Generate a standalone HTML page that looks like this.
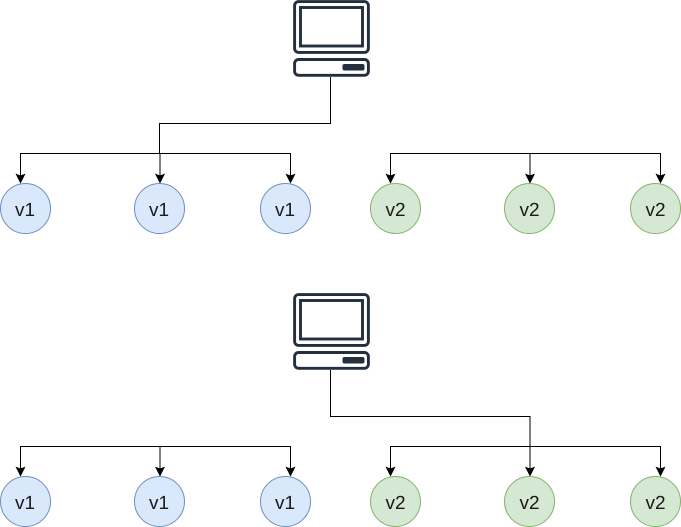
<!DOCTYPE html>
<html>
<head>
<meta charset="utf-8">
<style>
html,body{margin:0;padding:0;background:#fff;width:681px;height:527px;overflow:hidden}
svg{display:block}
text{font-family:"Liberation Sans",Arial,sans-serif;font-size:19px;fill:#1a1a1a;text-anchor:middle;text-rendering:geometricPrecision}
</style>
</head>
<body>
<svg width="681" height="527" viewBox="0 0 681 527" xmlns="http://www.w3.org/2000/svg">
<defs>
<g id="pc" fill="none" stroke="#232f3e" stroke-width="2.9">
<rect x="294.6" y="1.6" width="73.8" height="50.8" rx="4"/>
<rect x="300.5" y="7.5" width="62" height="38.5"/>
<rect x="294.6" y="59.5" width="73.8" height="15.8" rx="4"/>
<rect x="342.5" y="64" width="22" height="6.5" rx="2" fill="#232f3e" stroke="none"/>
</g>
<path id="ah" d="M0 0 L-4 -8 L0 -6.5 L4 -8 Z" fill="#000" stroke="#000" stroke-width="1"/>
</defs>

<use href="#pc"/>
<use href="#pc" y="293"/>

<g fill="none" stroke="#000" stroke-width="1">
<path d="M330.5 77V123.5H159.5V153.5"/>
<path d="M20.5 176V153.5H290.5V176"/>
<path d="M160 153.5V176"/>
<path d="M390.5 176V153.5H660.5V176"/>
<path d="M530 153.5V176"/>

<path d="M330.5 370V416.5H530V469"/>
<path d="M20.5 469V446.5H290.5V469"/>
<path d="M160 446.5V469"/>
<path d="M390.5 469V446.5H660.5V469"/>
</g>

<use href="#ah" x="20.5" y="182.5"/>
<use href="#ah" x="160" y="182.5"/>
<use href="#ah" x="290.5" y="182.5"/>
<use href="#ah" x="390.5" y="182.5"/>
<use href="#ah" x="530" y="182.5"/>
<use href="#ah" x="660.5" y="182.5"/>
<use href="#ah" x="20.5" y="475.5"/>
<use href="#ah" x="160" y="475.5"/>
<use href="#ah" x="290.5" y="475.5"/>
<use href="#ah" x="390.5" y="475.5"/>
<use href="#ah" x="530" y="475.5"/>
<use href="#ah" x="660.5" y="475.5"/>

<g fill="#dae8fc" stroke="#6c8ebf" stroke-width="1">
<circle cx="25.5" cy="208.5" r="25"/>
<circle cx="159.5" cy="208.5" r="25"/>
<circle cx="285.5" cy="208.5" r="25"/>
<circle cx="25.5" cy="501.5" r="25"/>
<circle cx="159.5" cy="501.5" r="25"/>
<circle cx="285.5" cy="501.5" r="25"/>
</g>
<g fill="#d5e8d4" stroke="#82b366" stroke-width="1">
<circle cx="395.5" cy="208.5" r="25"/>
<circle cx="529.5" cy="208.5" r="25"/>
<circle cx="655.5" cy="208.5" r="25"/>
<circle cx="395.5" cy="501.5" r="25"/>
<circle cx="529.5" cy="501.5" r="25"/>
<circle cx="655.5" cy="501.5" r="25"/>
</g>

<text x="25" y="216">v1</text>
<text x="159" y="216">v1</text>
<text x="285" y="216">v1</text>
<text x="395.5" y="216">v2</text>
<text x="529.5" y="216">v2</text>
<text x="655.5" y="216">v2</text>
<text x="25" y="509">v1</text>
<text x="159" y="509">v1</text>
<text x="285" y="509">v1</text>
<text x="395.5" y="509">v2</text>
<text x="529.5" y="509">v2</text>
<text x="655.5" y="509">v2</text>
</svg>
</body>
</html>
